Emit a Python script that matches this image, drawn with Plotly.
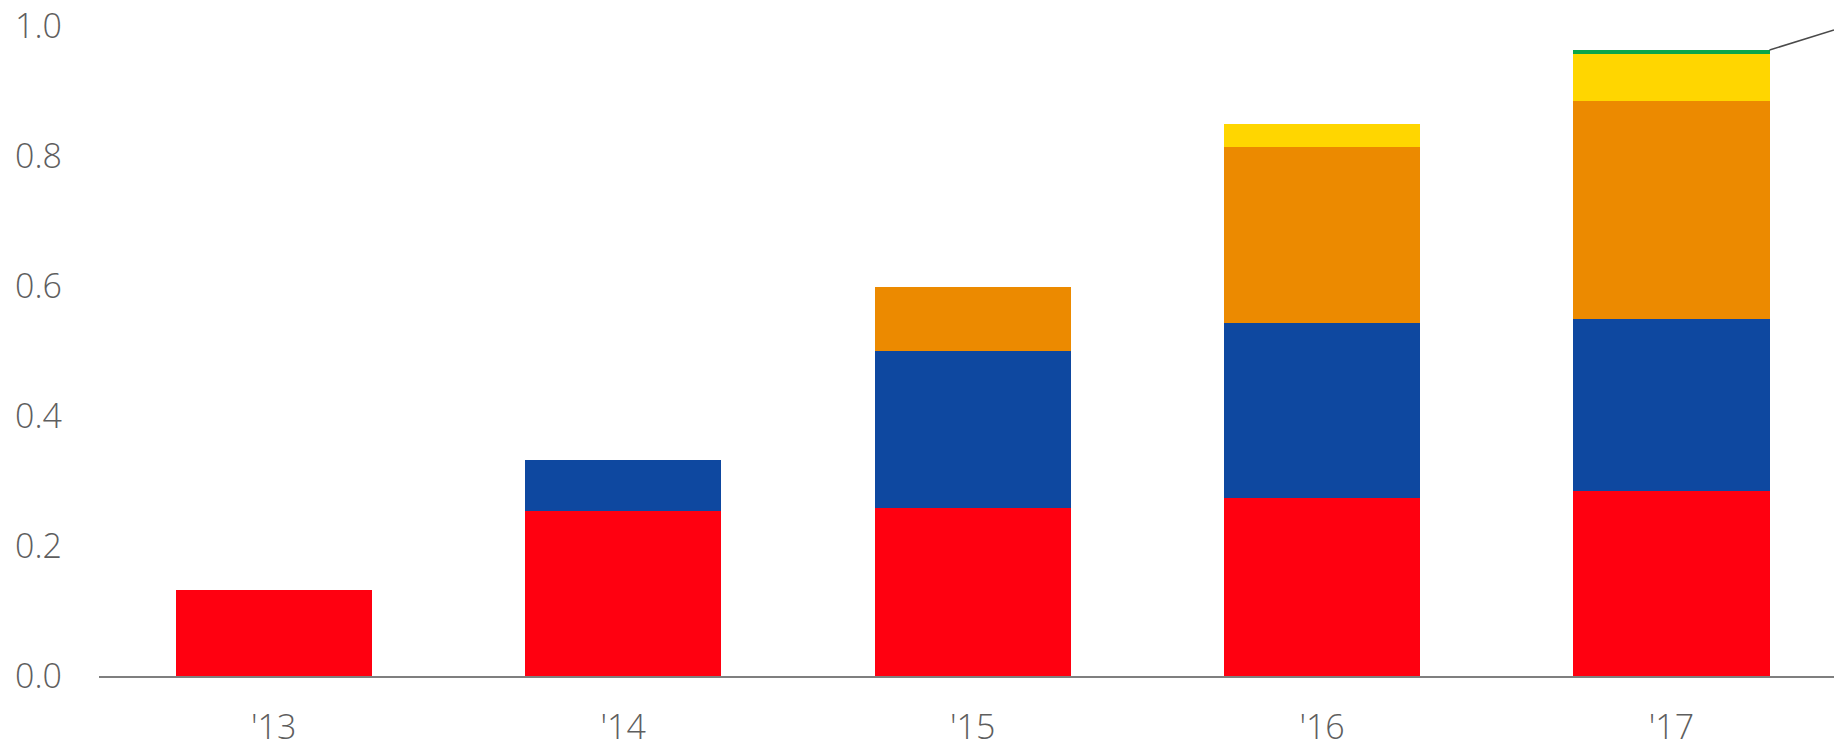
import plotly.graph_objects as go

years = ["'13", "'14", "'15", "'16", "'17"]
red_vals = [0.132, 0.254, 0.258, 0.274, 0.285]
blue_vals = [0, 0.078, 0.242, 0.269, 0.265]
orange_vals = [0, 0, 0.099, 0.271, 0.335]
yellow_vals = [0, 0, 0, 0.035, 0.072]
green_vals = [0, 0, 0, 0, 0.006]

series = [
    ("red", red_vals, "#FF0010"),
    ("blue", blue_vals, "#0E48A0"),
    ("orange", orange_vals, "#EC8A00"),
    ("yellow", yellow_vals, "#FFD600"),
    ("green", green_vals, "#0AA64A"),
]

fig = go.Figure()
for name, vals, col in series:
    fig.add_trace(go.Bar(
        x=list(range(len(years))), y=vals, name=name,
        marker=dict(color=col, line=dict(width=0)),
        hoverinfo="skip",
    ))

x_right = 4.465
total_last = sum(v[-1] for _, v, _ in series)
half_w = 0.561 / 2
fig.add_shape(type="line", xref="x", yref="y",
              x0=len(years) - 1 + half_w, y0=total_last,
              x1=x_right, y1=0.994,
              line=dict(color="#4a4a4a", width=1.5))

fig.update_layout(
    barmode="stack",
    bargap=0.439,
    width=1834, height=740,
    margin=dict(l=99, r=0, t=26, b=64),
    plot_bgcolor="white", paper_bgcolor="white",
    showlegend=False,
    font=dict(family="Open Sans", size=34, color="#5e5e5e", weight=300),
    xaxis=dict(
        range=[-0.5, x_right],
        tickmode="array", tickvals=list(range(len(years))), ticktext=years,
        showgrid=False, zeroline=False,
        showline=True, linecolor="#7f7f7f", linewidth=1.5,
        ticks="", ticklabelstandoff=20, automargin=False,
        fixedrange=True,
    ),
    yaxis=dict(
        range=[0, 1.0],
        tickmode="array", tickvals=[0, 0.2, 0.4, 0.6, 0.8, 1.0],
        ticktext=["0.0", "0.2", "0.4", "0.6", "0.8", "1.0"],
        showgrid=False, zeroline=False, showline=False,
        ticks="", ticklabelstandoff=36, automargin=False,
        fixedrange=True,
    ),
)

fig.write_html("out.html", config={"displayModeBar": False},
               post_script="document.body.style.margin='0';")
